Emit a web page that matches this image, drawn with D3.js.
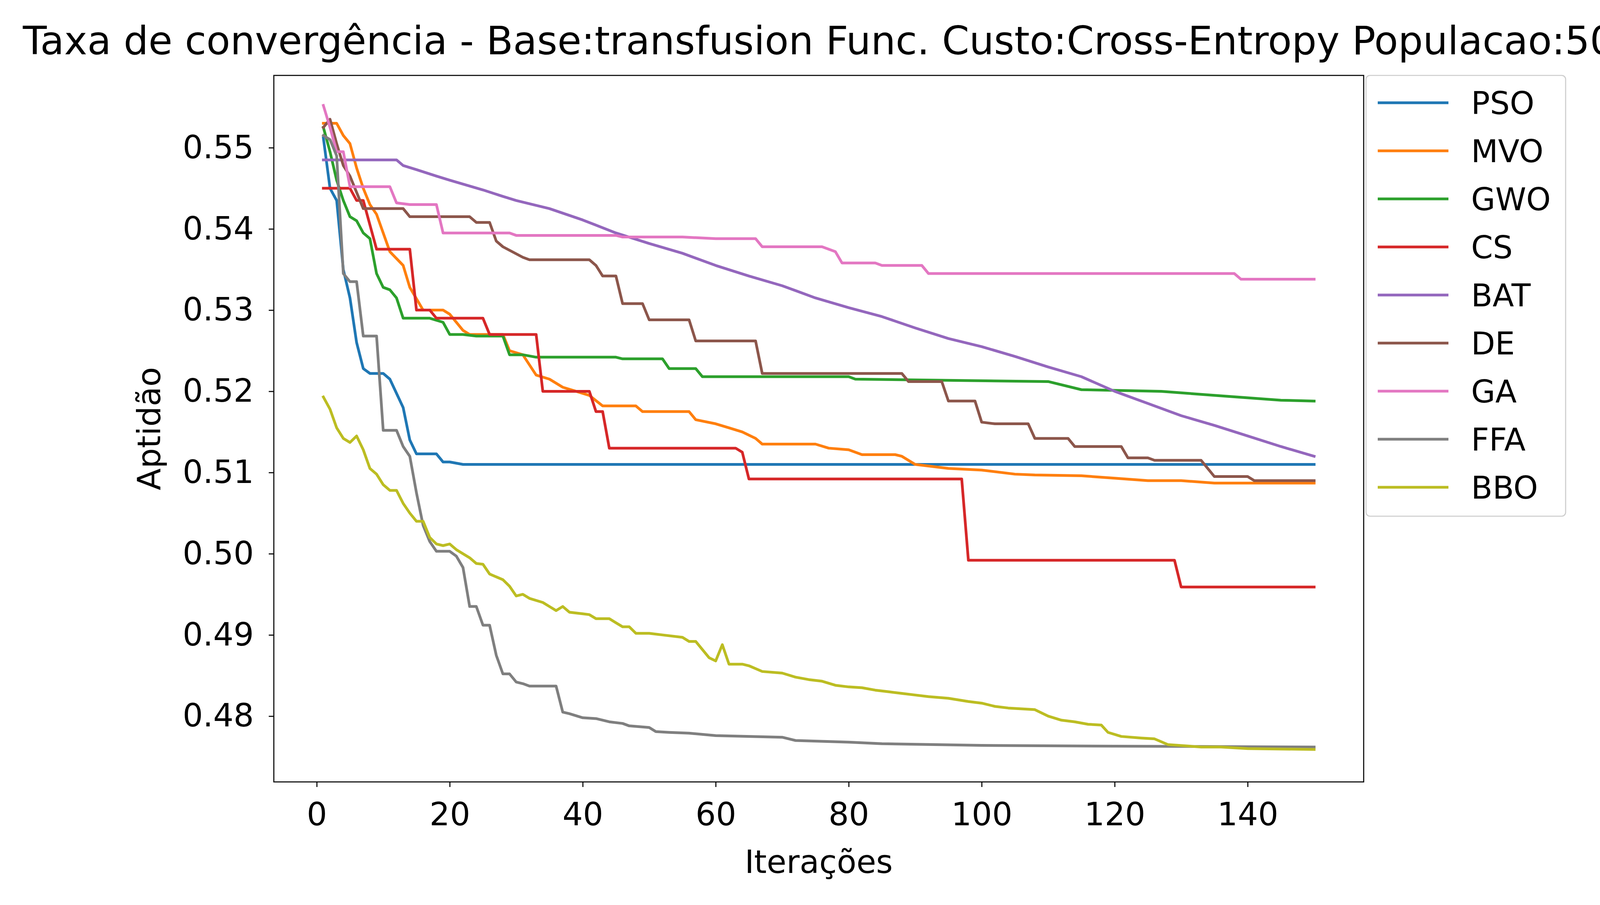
<!DOCTYPE html><html><head><meta charset="utf-8"><script src="https://cdn.jsdelivr.net/npm/d3@7"></script>
<style>body{margin:0;background:#fff;overflow:hidden}svg{font-family:"DejaVu Sans",sans-serif;display:block}</style></head><body><svg id="c" width="4194" height="2316"></svg>
<script>
const names=["PSO","MVO","GWO","CS","BAT","DE","GA","FFA","BBO"];
const colors=["#1f77b4","#ff7f0e","#2ca02c","#d62728","#9467bd","#8c564b","#e377c2","#7f7f7f","#bcbd22"];
const xTicks=[0,20,40,60,80,100,120,140];
const yTicks=[0.48,0.49,0.50,0.51,0.52,0.53,0.54,0.55];
const PSO=[[1,0.5512],[2,0.545],[3,0.5435],[4,0.535],[5,0.5315],[6,0.526],[7,0.5228],[8,0.5222],[10,0.5222],[11,0.5215],[13,0.518],[14,0.514],[15,0.5123],[18,0.5123],[19,0.5113],[20,0.5113],[22,0.511],[150,0.511]];
const MVO=[[1,0.553],[3,0.553],[4,0.5515],[5,0.5505],[6,0.5475],[7,0.545],[8,0.543],[9,0.5418],[11,0.5372],[13,0.5355],[14,0.5328],[16,0.53],[19,0.53],[20,0.5295],[22,0.5275],[23,0.527],[28,0.527],[29,0.525],[31,0.5245],[33,0.522],[35,0.5215],[37,0.5205],[39,0.52],[41,0.5195],[43,0.5182],[48,0.5182],[49,0.5175],[56,0.5175],[57,0.5165],[60,0.516],[62,0.5155],[64,0.515],[66,0.5142],[67,0.5135],[75,0.5135],[77,0.513],[80,0.5128],[82,0.5122],[87,0.5122],[88,0.512],[90,0.511],[95,0.5105],[100,0.5103],[105,0.5098],[108,0.5097],[115,0.5096],[120,0.5093],[125,0.509],[130,0.509],[135,0.5087],[150,0.5087]];
const GWO=[[1,0.5525],[2,0.5495],[3,0.546],[4,0.5435],[5,0.5415],[6,0.541],[7,0.5395],[8,0.5388],[9,0.5345],[10,0.5328],[11,0.5325],[12,0.5315],[13,0.529],[17,0.529],[19,0.5285],[20,0.527],[22,0.527],[24,0.5268],[28,0.5268],[29,0.5245],[31,0.5245],[33,0.5242],[45,0.5242],[46,0.524],[52,0.524],[53,0.5228],[57,0.5228],[58,0.5218],[80,0.5218],[81,0.5215],[110,0.5212],[115,0.5202],[127,0.52],[135,0.5195],[140,0.5192],[145,0.5189],[150,0.5188]];
const CS=[[1,0.545],[5,0.545],[6,0.5435],[7,0.5435],[8,0.5405],[9,0.5375],[14,0.5375],[15,0.53],[17,0.53],[18,0.529],[25,0.529],[26,0.527],[33,0.527],[34,0.52],[41,0.52],[42,0.5175],[43,0.5175],[44,0.513],[63,0.513],[64,0.5125],[65,0.5092],[97,0.5092],[98,0.4992],[129,0.4992],[130,0.4959],[150,0.4959]];
const BAT=[[1,0.5485],[12,0.5485],[13,0.5478],[15,0.5473],[18,0.5465],[20,0.546],[25,0.5448],[28,0.544],[30,0.5435],[35,0.5425],[40,0.5411],[45,0.5395],[50,0.5382],[55,0.537],[60,0.5355],[65,0.5342],[70,0.533],[75,0.5315],[80,0.5303],[85,0.5292],[90,0.5278],[95,0.5265],[100,0.5255],[105,0.5243],[110,0.523],[115,0.5218],[120,0.52],[125,0.5185],[130,0.517],[135,0.5158],[140,0.5145],[145,0.5132],[150,0.512]];
const DE=[[1,0.5525],[2,0.5535],[3,0.5505],[4,0.5478],[5,0.5465],[6,0.5445],[7,0.5425],[13,0.5425],[14,0.5415],[23,0.5415],[24,0.5408],[26,0.5408],[27,0.5385],[28,0.5378],[31,0.5365],[32,0.5362],[41,0.5362],[42,0.5355],[43,0.5342],[45,0.5342],[46,0.5308],[49,0.5308],[50,0.5288],[56,0.5288],[57,0.5262],[66,0.5262],[67,0.5222],[88,0.5222],[89,0.5212],[94,0.5212],[95,0.5188],[99,0.5188],[100,0.5162],[102,0.516],[107,0.516],[108,0.5142],[113,0.5142],[114,0.5132],[121,0.5132],[122,0.5118],[125,0.5118],[126,0.5115],[133,0.5115],[134,0.5105],[135,0.5095],[140,0.5095],[141,0.509],[150,0.509]];
const GA=[[1,0.5552],[2,0.5525],[3,0.5495],[4,0.5495],[5,0.5452],[11,0.5452],[12,0.5432],[14,0.543],[18,0.543],[19,0.5395],[29,0.5395],[30,0.5392],[45,0.5392],[46,0.539],[55,0.539],[60,0.5388],[66,0.5388],[67,0.5378],[76,0.5378],[78,0.5372],[79,0.5358],[84,0.5358],[85,0.5355],[91,0.5355],[92,0.5345],[138,0.5345],[139,0.5338],[150,0.5338]];
const FFA=[[1,0.5515],[2,0.551],[3,0.549],[4,0.5345],[5,0.5335],[6,0.5335],[7,0.5268],[9,0.5268],[10,0.5152],[12,0.5152],[13,0.5132],[14,0.512],[15,0.5075],[16,0.5035],[17,0.5015],[18,0.5003],[20,0.5003],[21,0.4997],[22,0.4983],[23,0.4935],[24,0.4935],[25,0.4912],[26,0.4912],[27,0.4875],[28,0.4852],[29,0.4852],[30,0.4842],[31,0.484],[32,0.4837],[36,0.4837],[37,0.4805],[38,0.4803],[40,0.4798],[42,0.4797],[44,0.4793],[46,0.4791],[47,0.4788],[50,0.4786],[51,0.4781],[53,0.478],[56,0.4779],[60,0.4776],[70,0.4774],[72,0.477],[80,0.4768],[85,0.4766],[100,0.4764],[120,0.4763],[150,0.4762]];
const BBO=[[1,0.5193],[2,0.5178],[3,0.5155],[4,0.5142],[5,0.5137],[6,0.5145],[7,0.5128],[8,0.5105],[9,0.5098],[10,0.5085],[11,0.5078],[12,0.5078],[13,0.5062],[14,0.505],[15,0.504],[16,0.504],[17,0.502],[18,0.5012],[19,0.501],[20,0.5012],[21,0.5005],[23,0.4995],[24,0.4988],[25,0.4987],[26,0.4975],[28,0.4968],[29,0.496],[30,0.4948],[31,0.495],[32,0.4945],[34,0.494],[35,0.4935],[36,0.493],[37,0.4935],[38,0.4928],[40,0.4926],[41,0.4925],[42,0.492],[44,0.492],[45,0.4915],[46,0.491],[47,0.491],[48,0.4902],[50,0.4902],[52,0.49],[55,0.4897],[56,0.4892],[57,0.4892],[58,0.4882],[59,0.4872],[60,0.4868],[61,0.4888],[62,0.4864],[64,0.4864],[65,0.4862],[67,0.4855],[70,0.4853],[72,0.4848],[74,0.4845],[76,0.4843],[78,0.4838],[80,0.4836],[82,0.4835],[84,0.4832],[86,0.483],[88,0.4828],[90,0.4826],[92,0.4824],[95,0.4822],[98,0.4818],[100,0.4816],[102,0.4812],[104,0.481],[108,0.4808],[110,0.48],[112,0.4795],[114,0.4793],[116,0.479],[118,0.4789],[119,0.478],[121,0.4775],[124,0.4773],[126,0.4772],[128,0.4765],[133,0.4762],[136,0.4762],[140,0.476],[150,0.4759]];
const series=[PSO,MVO,GWO,CS,BAT,DE,GA,FFA,BBO];

const L=701,R=3491,T=193,B=2001;
const svg=d3.select("#c");
const x=d3.scaleLinear().domain([-6.45,157.45]).range([L,R]);
const y=d3.scaleLinear().domain([0.4719,0.5589]).range([B,T]);
const line=d3.line().x(d=>x(d[0])).y(d=>y(d[1]));
svg.append("clipPath").attr("id","cp").append("rect").attr("x",L).attr("y",T).attr("width",R-L).attr("height",B-T);
series.forEach((s,i)=>svg.append("path").attr("d",line(s)).attr("fill","none").attr("stroke",colors[i]).attr("stroke-width",7).attr("stroke-linejoin","round").attr("stroke-linecap","square").attr("clip-path","url(#cp)"));
const xa=svg.append("g").attr("transform",`translate(0,${B})`).call(d3.axisBottom(x).tickValues(xTicks).tickSize(13).tickPadding(40).tickFormat(d3.format("d")));
const ya=svg.append("g").attr("transform",`translate(${L},0)`).call(d3.axisLeft(y).tickValues(yTicks).tickSize(13).tickPadding(38).tickFormat(d3.format(".2f")));
[xa,ya].forEach(a=>{a.select(".domain").remove();a.selectAll("line").attr("stroke","#000").attr("stroke-width",2.7);a.selectAll("text").attr("font-size",82).attr("fill","#000").attr("font-family","DejaVu Sans");});
svg.append("rect").attr("x",L).attr("y",T).attr("width",R-L).attr("height",B-T).attr("fill","none").attr("stroke","#000").attr("stroke-width",2.7);
svg.append("text").attr("x",(L+R)/2+0).attr("y",139).attr("text-anchor","middle").attr("font-size",100).text("Taxa de convergência - Base:transfusion Func. Custo:Cross-Entropy Populacao:50");
svg.append("text").attr("x",(L+R)/2).attr("y",2234).attr("text-anchor","middle").attr("font-size",82).text("Iterações");
svg.append("text").attr("transform",`translate(410,${(T+B)/2}) rotate(-90)`).attr("text-anchor","middle").attr("font-size",82).text("Aptidão");
const lg=svg.append("g");
lg.append("rect").attr("x",3497).attr("y",193).attr("width",511).attr("height",1128).attr("rx",10).attr("fill","#fff").attr("stroke","#ccc").attr("stroke-width",2.7);
names.forEach((n,i)=>{const yy=263+i*123;
lg.append("line").attr("x1",3527).attr("x2",3708).attr("y1",yy).attr("y2",yy).attr("stroke",colors[i]).attr("stroke-width",7);
lg.append("text").attr("x",3766).attr("y",yy+29).attr("font-size",80).text(n);});
</script></body></html>
